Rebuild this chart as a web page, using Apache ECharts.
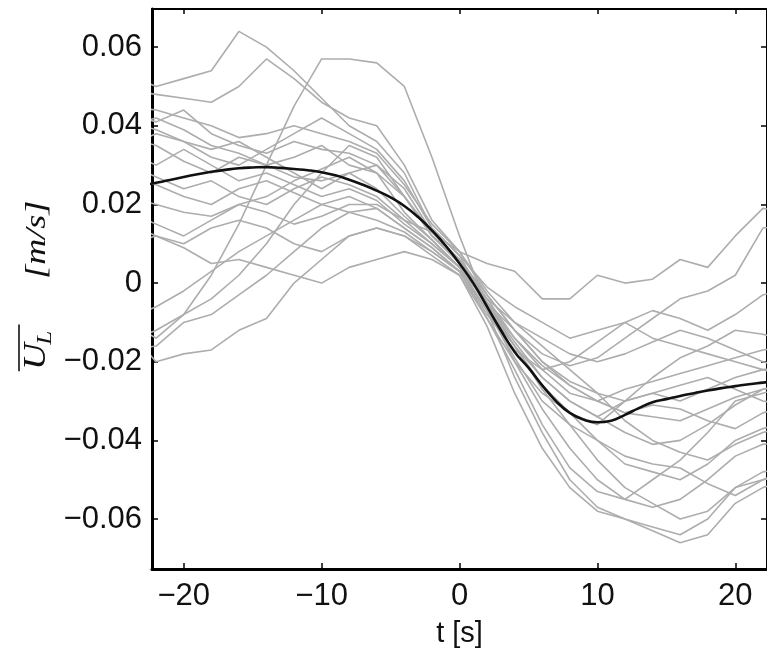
<!DOCTYPE html>
<html>
<head>
<meta charset="utf-8">
<script src="https://cdn.jsdelivr.net/npm/echarts@6/dist/echarts.min.js"></script>
<style>
html,body{margin:0;padding:0;background:#fff;}
#chart{width:767px;height:655px;}
</style>
</head>
<body>
<div id="chart"></div>
<script>
// sample times of the individual gray traces [s]
var tSec = [-24,-22,-20,-18,-16,-14,-12,-10,-8,-6,-4,-2,0,2,4,6,8,10,12,14,16,18,20,22,24];
// individual traces U_L [m/s]
var trial01 = [0.053,0.050,0.052,0.054,0.064,0.060,0.054,0.047,0.040,0.036,0.028,0.014,0.007,-0.005,-0.016,-0.026,-0.033,-0.040,-0.046,-0.048,-0.050,-0.046,-0.040,-0.037,-0.035];
var trial02 = [0.049,0.048,0.047,0.046,0.050,0.057,0.052,0.046,0.042,0.040,0.030,0.016,0.008,-0.003,-0.012,-0.020,-0.025,-0.028,-0.030,-0.028,-0.030,-0.027,-0.024,-0.022,-0.021];
var trial03 = [-0.010,-0.014,-0.008,0.002,0.015,0.030,0.045,0.057,0.057,0.056,0.050,0.032,0.012,-0.006,-0.020,-0.032,-0.042,-0.050,-0.055,-0.050,-0.045,-0.038,-0.030,-0.028,-0.026];
var trial04 = [0.045,0.044,0.042,0.040,0.037,0.038,0.040,0.038,0.036,0.033,0.025,0.015,0.008,-0.002,-0.010,-0.016,-0.022,-0.028,-0.035,-0.040,-0.043,-0.045,-0.041,-0.038,-0.036];
var trial05 = [0.043,0.041,0.044,0.038,0.035,0.033,0.036,0.034,0.033,0.030,0.024,0.013,0.006,-0.004,-0.014,-0.022,-0.028,-0.030,-0.027,-0.025,-0.023,-0.021,-0.019,-0.017,-0.016];
var trial06 = [0.040,0.042,0.039,0.035,0.033,0.030,0.032,0.035,0.030,0.028,0.022,0.012,0.005,-0.006,-0.016,-0.027,-0.036,-0.045,-0.052,-0.056,-0.060,-0.058,-0.052,-0.050,-0.049];
var trial07 = [0.037,0.035,0.031,0.028,0.032,0.030,0.027,0.026,0.028,0.024,0.017,0.011,0.004,-0.005,-0.015,-0.024,-0.030,-0.034,-0.038,-0.041,-0.040,-0.036,-0.031,-0.027,-0.025];
var trial08 = [0.033,0.030,0.034,0.030,0.026,0.028,0.025,0.022,0.024,0.021,0.015,0.010,0.004,-0.007,-0.024,-0.038,-0.050,-0.057,-0.060,-0.062,-0.064,-0.060,-0.052,-0.048,-0.047];
var trial09 = [0.030,0.027,0.024,0.026,0.022,0.020,0.024,0.027,0.025,0.022,0.016,0.010,0.004,-0.007,-0.019,-0.030,-0.036,-0.040,-0.044,-0.046,-0.047,-0.051,-0.054,-0.050,-0.047];
var trial10 = [0.027,0.025,0.022,0.020,0.024,0.026,0.023,0.020,0.018,0.019,0.014,0.009,0.003,-0.004,-0.010,-0.014,-0.018,-0.020,-0.018,-0.015,-0.012,-0.014,-0.017,-0.020,-0.022];
var trial11 = [0.022,0.020,0.018,0.017,0.020,0.022,0.026,0.029,0.032,0.028,0.018,0.011,0.004,-0.005,-0.012,-0.018,-0.021,-0.019,-0.014,-0.009,-0.004,-0.002,0.002,0.014,0.015];
var trial12 = [0.018,0.015,0.012,0.016,0.020,0.018,0.015,0.017,0.020,0.020,0.016,0.013,0.008,0.005,0.003,-0.004,-0.004,0.002,0.000,0.001,0.006,0.004,0.012,0.019,0.018];
var trial13 = [0.015,0.012,0.010,0.014,0.016,0.014,0.010,0.008,0.012,0.014,0.012,0.008,0.003,-0.008,-0.017,-0.022,-0.020,-0.015,-0.010,-0.007,-0.009,-0.012,-0.008,-0.003,-0.001];
var trial14 = [-0.009,-0.006,-0.002,0.003,0.008,0.012,0.016,0.020,0.022,0.019,0.014,0.009,0.003,-0.009,-0.022,-0.036,-0.047,-0.053,-0.055,-0.057,-0.055,-0.050,-0.044,-0.041,-0.040];
var trial15 = [-0.012,-0.020,-0.018,-0.017,-0.012,-0.009,0.000,0.006,0.012,0.014,0.012,0.007,0.002,-0.011,-0.028,-0.042,-0.052,-0.058,-0.060,-0.063,-0.066,-0.064,-0.056,-0.052,-0.050];
var trial16 = [-0.015,-0.012,-0.008,-0.004,0.002,0.010,0.020,0.028,0.035,0.032,0.022,0.013,0.005,-0.005,-0.014,-0.021,-0.026,-0.030,-0.033,-0.031,-0.032,-0.035,-0.037,-0.033,-0.031];
var trial17 = [-0.017,-0.016,-0.010,-0.008,-0.003,0.002,0.008,0.014,0.018,0.016,0.013,0.008,0.003,-0.007,-0.016,-0.024,-0.030,-0.034,-0.030,-0.028,-0.026,-0.024,-0.027,-0.030,-0.031];
var trial18 = [0.010,0.012,0.009,0.005,0.006,0.004,0.002,0.000,0.004,0.006,0.008,0.006,0.002,-0.009,-0.020,-0.028,-0.033,-0.036,-0.030,-0.024,-0.019,-0.016,-0.012,-0.013,-0.015];
var trial19 = [0.035,0.038,0.036,0.032,0.030,0.034,0.038,0.042,0.038,0.034,0.026,0.014,0.007,-0.001,-0.006,-0.010,-0.014,-0.012,-0.010,-0.014,-0.016,-0.018,-0.020,-0.022,-0.024];
var trial20 = [0.041,0.039,0.036,0.034,0.036,0.032,0.028,0.024,0.028,0.030,0.022,0.012,0.006,-0.003,-0.012,-0.020,-0.026,-0.030,-0.033,-0.034,-0.035,-0.032,-0.029,-0.027,-0.026];

// ensemble mean (black curve)
var meanT = [-23,-22,-21,-20,-19,-18,-17,-16,-15,-14,-13,-12,-11,-10,-9,-8,-7,-6,-5,-4,-3,-2,-1,0,1,2,3,4,5,6,7,8,9,10,11,12,13,14,15,16,17,18,19,20,21,22,23];
var meanU = [0.0248,0.0255,0.0262,0.0270,0.0277,0.0283,0.0288,0.0292,0.0294,0.0295,0.0293,0.0290,0.0287,0.0282,0.0274,0.0263,0.0250,0.0235,0.0218,0.0196,0.0168,0.0134,0.0095,0.0050,0.0000,-0.0060,-0.0120,-0.0175,-0.0215,-0.0260,-0.0300,-0.0330,-0.0347,-0.0354,-0.0350,-0.0335,-0.0318,-0.0303,-0.0295,-0.0287,-0.0280,-0.0273,-0.0267,-0.0262,-0.0257,-0.0253,-0.0249];

// axes
var xTicks = [-20,-10,0,10,20];
var yTicks = [-0.06,-0.04,-0.02,0,0.02,0.04,0.06];
var xRange = [-22.3, 22.3];
var yRange = [-0.0727, 0.0697];

var trials = [trial01,trial02,trial03,trial04,trial05,trial06,trial07,trial08,trial09,trial10,
              trial11,trial12,trial13,trial14,trial15,trial16,trial17,trial18,trial19,trial20];

function zip(xs, ys){ var o=[]; for(var i=0;i<xs.length;i++){o.push([xs[i],ys[i]]);} return o; }

var series = trials.map(function(arr, i){
  return {type:'line', name:'trial'+(i+1), data: zip(tSec, arr), showSymbol:false, symbol:'none',
    lineStyle:{color:'#adadad', width:1.6}, z:2, silent:true, clip:true};
});
series.push({type:'line', name:'mean', data: zip(meanT, meanU), showSymbol:false, symbol:'none', smooth:true,
  lineStyle:{color:'#111111', width:2.6}, z:5, silent:true, clip:true});

var labelFont = "'Liberation Sans', Arial, Helvetica, sans-serif";
function yFmt(v){ if (Math.abs(v) < 1e-9) return '0'; var s = Math.abs(v).toFixed(2); return (v<0?'\u2212':'') + s; }
function xFmt(v){ return (v<0?'\u2212':'') + Math.abs(v); }

var chart = echarts.init(document.getElementById('chart'), null, {renderer:'canvas'});
chart.setOption({
  animation:false,
  backgroundColor:'#ffffff',
  grid:{left:152, top:9, right:-5, bottom:86, containLabel:false},
  xAxis:[{
    type:'value', min:xRange[0], max:xRange[1], position:'bottom',
    name:'t [s]', nameLocation:'middle', nameGap:50,
    nameTextStyle:{fontFamily:labelFont, fontSize:29, color:'#111'},
    axisLine:{show:true, onZero:false, lineStyle:{color:'#000', width:3}},
    axisTick:{show:true, inside:true, length:6, customValues:xTicks, lineStyle:{color:'#000', width:1.5}},
    axisLabel:{show:true, customValues:xTicks, formatter:xFmt, margin:12, fontFamily:labelFont, fontSize:31, color:'#111'},
    splitLine:{show:false}
  },{
    type:'value', min:xRange[0], max:xRange[1], position:'top',
    axisLine:{show:true, onZero:false, lineStyle:{color:'#000', width:2}},
    axisTick:{show:true, inside:true, length:5, customValues:xTicks, lineStyle:{color:'#000', width:1.5}},
    axisLabel:{show:false}, splitLine:{show:false}
  }],
  yAxis:[{
    type:'value', min:yRange[0], max:yRange[1], position:'left',
    axisLine:{show:true, onZero:false, lineStyle:{color:'#000', width:3}},
    axisTick:{show:true, inside:true, length:6, customValues:yTicks, lineStyle:{color:'#000', width:1.5}},
    axisLabel:{show:true, customValues:yTicks, formatter:yFmt, margin:10, fontFamily:labelFont, fontSize:31, color:'#111'},
    splitLine:{show:false}
  },{
    type:'value', min:yRange[0], max:yRange[1], position:'right',
    axisLine:{show:true, onZero:false, lineStyle:{color:'#000', width:2}},
    axisTick:{show:true, inside:true, length:6, customValues:yTicks, lineStyle:{color:'#000', width:1.5}},
    axisLabel:{show:false}, splitLine:{show:false}
  }],
  graphic:[{
    type:'group', x:37, y:370, rotation:Math.PI/2, scaleX:1.2, scaleY:1,
    children:[
      {type:'text', x:0, y:0, style:{text:'U', font:"italic 31px 'Liberation Serif', 'DejaVu Serif', serif", fill:'#111', verticalAlign:'middle', align:'left'}},
      {type:'text', x:21, y:8, style:{text:'L', font:"italic 21px 'Liberation Serif', 'DejaVu Serif', serif", fill:'#111', verticalAlign:'middle', align:'left'}},
      {type:'line', shape:{x1:-1, y1:-18, x2:38, y2:-18}, style:{stroke:'#111', lineWidth:1.6}},
      {type:'text', x:76, y:0, style:{text:'[m/s]', font:"italic 30px 'Liberation Serif', 'DejaVu Serif', serif", fill:'#111', verticalAlign:'middle', align:'left'}}
    ]
  }],
  series: series
});
</script>
</body>
</html>
